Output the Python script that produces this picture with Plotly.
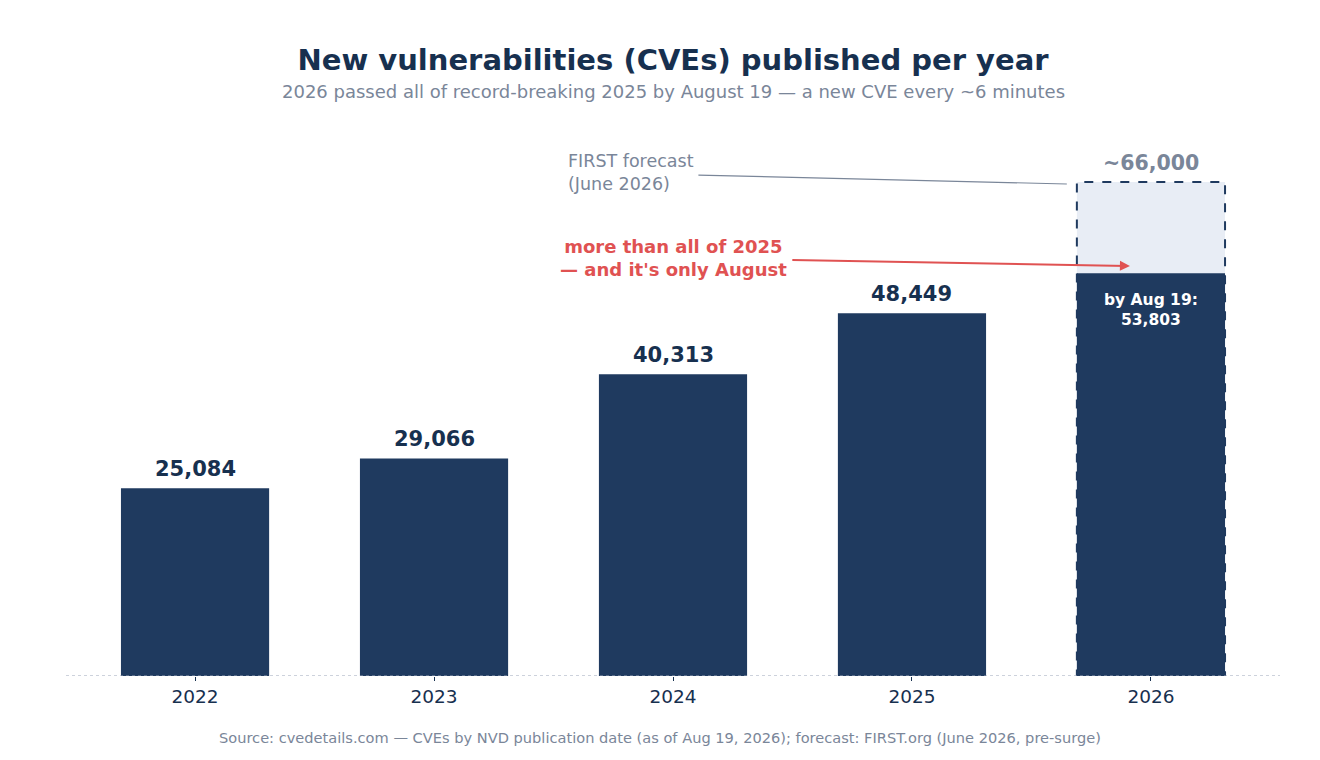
import plotly.graph_objects as go

# data
years = ["2022", "2023", "2024", "2025", "2026"]
cves = [25084, 29066, 40313, 48449, 53803]
forecast_2026 = 66000
ytd_label = "by Aug 19:"

NAVY = "#1f3a5f"
DARK = "#17304f"
GRAY = "#7a8699"
RED = "#e05252"
FONT = "DejaVu Sans"
BAR_W = 0.62

fig = go.Figure()

# forecast (light) bar behind the actual 2026 bar
fig.add_trace(go.Bar(
    x=years, y=[None] * 4 + [forecast_2026],
    marker=dict(color="#e8edf5", line=dict(width=0)),
    width=BAR_W, hoverinfo="skip", showlegend=False,
))

fig.add_trace(go.Bar(
    x=years, y=cves,
    marker=dict(color=NAVY, line=dict(width=0)),
    width=BAR_W, showlegend=False,
))

# dashed outline around the forecast bar
i26 = len(years) - 1
fig.add_shape(type="rect", xref="x", yref="y",
              x0=i26 - BAR_W / 2, x1=i26 + BAR_W / 2, y0=0, y1=forecast_2026,
              line=dict(color=NAVY, width=2, dash="dash"), fillcolor="rgba(0,0,0,0)",
              layer="above")

# dotted baseline
fig.add_shape(type="line", xref="paper", yref="y", x0=0, x1=1, y0=0, y1=0,
              line=dict(color="#9aa5b8", width=1, dash="dot"), layer="above")

# value labels (category index positions)
for i, v in enumerate(cves[:-1]):
    fig.add_annotation(x=i, y=v, text=f"<b>{v:,}</b>", showarrow=False,
                       yanchor="bottom", yshift=5,
                       font=dict(size=21, color=DARK, family=FONT))

fig.add_annotation(x=i26, y=forecast_2026, text=f"<b>~{forecast_2026:,}</b>",
                   showarrow=False, yanchor="bottom", yshift=5,
                   font=dict(size=20.5, color=GRAY, family=FONT))

fig.add_annotation(x=i26, y=cves[-1], text=f"<b>{ytd_label}<br>{cves[-1]:,}</b>",
                   showarrow=False, yanchor="top", yshift=-16,
                   font=dict(size=15.5, color="white", family=FONT))

# FIRST forecast callout
fig.add_annotation(x=1.552, y=67300, xref="x", yref="y", text="FIRST forecast<br>(June 2026)",
                   showarrow=False, xanchor="left", yanchor="middle", align="left",
                   font=dict(size=17.5, color=GRAY, family=FONT))
fig.add_annotation(x=3.648, y=65720, ax=2.10, ay=66925, xref="x", yref="y",
                   axref="x", ayref="y", text="", showarrow=True, arrowhead=0,
                   arrowwidth=1.2, arrowcolor=GRAY)

# red callout
fig.add_annotation(x=2, y=55840, xref="x", yref="y",
                   text="<b>more than all of 2025<br>— and it's only August</b>",
                   showarrow=False, xanchor="center", yanchor="middle", align="center",
                   font=dict(size=18, color=RED, family=FONT))
fig.add_annotation(x=3.912, y=54770, ax=2.493, ay=55570, xref="x", yref="y",
                   axref="x", ayref="y", text="", showarrow=True, arrowhead=2,
                   arrowsize=1, arrowwidth=2, arrowcolor=RED)

# subtitle
fig.add_annotation(x=0.5, y=1.0853, xref="paper", yref="paper", yanchor="middle",
                   text="2026 passed all of record-breaking 2025 by August 19 — a new CVE every ~6 minutes",
                   showarrow=False, font=dict(size=18, color=GRAY, family=FONT))

# source
fig.add_annotation(x=0.4889, y=-0.115, xref="paper", yref="paper", yanchor="middle",
                   text="Source: cvedetails.com — CVEs by NVD publication date (as of Aug 19, 2026); "
                        "forecast: FIRST.org (June 2026, pre-surge)",
                   showarrow=False, font=dict(size=14.6, color=GRAY, family=FONT))

fig.update_layout(
    width=1320, height=760,
    barmode="overlay",
    paper_bgcolor="white", plot_bgcolor="white",
    margin=dict(l=58, r=48, t=129, b=92),
    font=dict(family=FONT, color=DARK),
    title=dict(
        text="<b>New vulnerabilities (CVEs) published per year</b>",
        x=0.5, xref="paper", xanchor="center", y=1 - 52 / 760, yanchor="middle",
        font=dict(size=29, color=DARK, family=FONT),
    ),
    xaxis=dict(
        type="category", range=[-0.54, 4.54], showgrid=False, showline=False,
        ticks="outside", ticklen=4, tickcolor="#17304f", tickwidth=1,
        tickfont=dict(size=18.5, color=DARK), zeroline=False,
    ),
    yaxis=dict(range=[0, 72000], visible=False, showgrid=False, zeroline=False),
)

fig.write_html("out.html")
